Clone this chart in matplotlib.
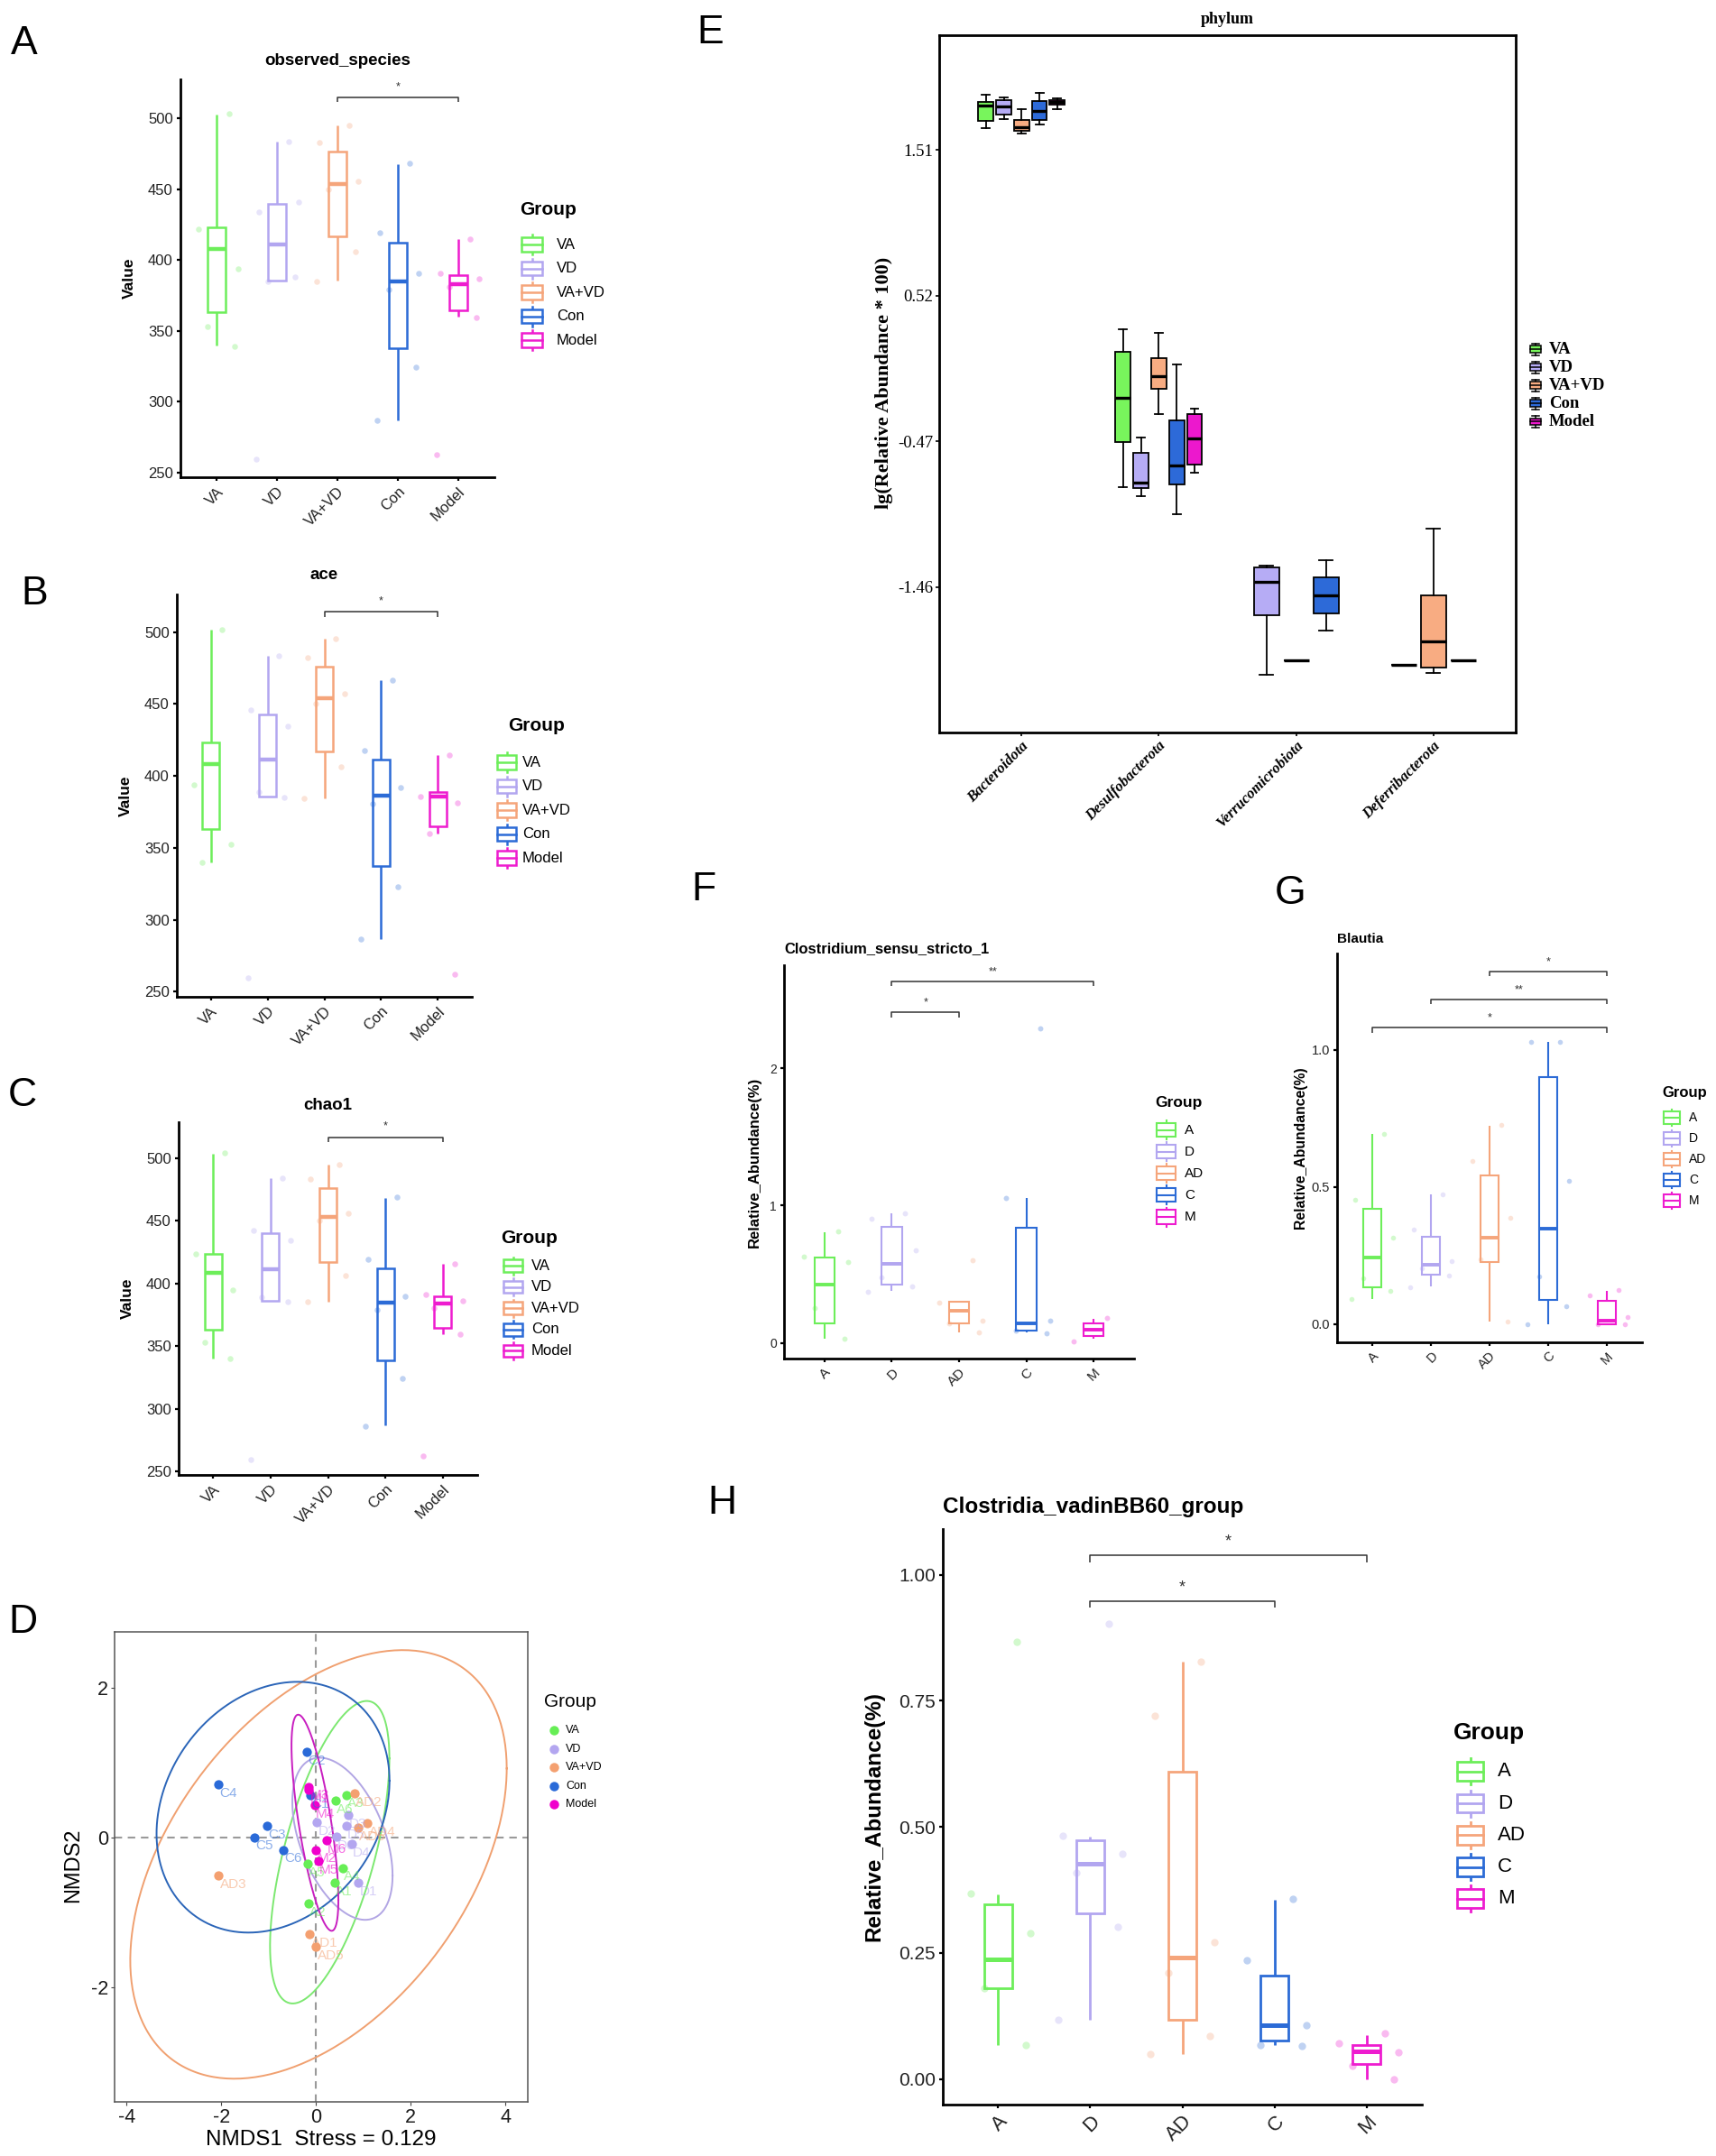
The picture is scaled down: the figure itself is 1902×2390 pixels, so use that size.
import numpy as np
import matplotlib
matplotlib.use('Agg')
import matplotlib.pyplot as plt
from matplotlib.lines import Line2D
from matplotlib.patches import Rectangle

plt.rcParams['font.family'] = ['Liberation Sans', 'DejaVu Sans']
plt.rcParams['axes.unicode_minus'] = False

W, H = 1902, 2390
PX = 0.72  # points per pixel at dpi 100

# ---------------- data ----------------
ALPHA_GROUPS = ['VA', 'VD', 'VA+VD', 'Con', 'Model']
GENUS_GROUPS = ['A', 'D', 'AD', 'C', 'M']
COLORS = ['#6DEE5A', '#B2A6F0', '#F5A57B', '#2C6BD6', '#EE1CCF']

# box stats per group: [lower whisker, Q1, median, Q3, upper whisker]
OBS_BOX = [[339.4, 363.3, 408.0, 423.0, 502.6], [385.8, 385.8, 410.8, 439.9, 483.7],
           [385.3, 416.7, 453.6, 476.6, 494.8], [287.0, 338.0, 384.8, 412.0, 467.8],
           [360.0, 364.7, 383.2, 389.5, 414.9]]
OBS_PTS = [[503, 421.7, 394, 353, 339], [483.7, 433.8, 441, 385, 388, 259.5],
           [494.7, 483, 455.8, 449.9, 406, 384.8], [468, 419, 390.3, 379.4, 324.5, 286.7],
           [415, 390.3, 386.7, 380.8, 359.5, 262.5]]
OBS_SIG = [(3, 5, 514.6, '*')]

ACE_BOX = [[340.2, 363.0, 408.4, 423.3, 501.6], [385.6, 385.6, 411.5, 442.9, 483.5],
           [384.4, 417.3, 453.9, 476.0, 495.1], [286.8, 337.1, 386.3, 411.2, 466.7],
           [360.0, 364.9, 385.8, 389.1, 414.3]]
ACE_PTS = [[501.6, 393.8, 352.5, 340.2], [483.5, 445.7, 434.5, 388.6, 384.9, 259.8],
           [495.1, 482.3, 457.1, 450.4, 406.1, 384.4], [466.7, 417.5, 391.9, 380.5, 322.7, 286.8],
           [414.5, 385.8, 381.4, 360, 262.1]]
ACE_SIG = [(3, 5, 514.0, '*')]

CHAO_BOX = [[339.8, 363.3, 408.6, 423.4, 503.8], [386.1, 386.1, 411.6, 440.2, 483.9],
            [385.3, 417.2, 453.4, 476.4, 494.6], [287.0, 338.4, 384.5, 412.1, 468.4],
            [359.9, 364.7, 384.0, 389.9, 415.6]]
CHAO_PTS = [[504, 423.6, 394.7, 353.2, 339.8], [484, 442.1, 434.6, 388.8, 385.3, 259.7],
            [495, 483.1, 456.3, 450.4, 406.5, 385.3], [469, 419.6, 390.1, 378.9, 324.5, 286.4],
            [416, 390.9, 386, 380.2, 359.9, 262.6]]
CHAO_SIG = [(3, 5, 516.6, '*')]

CSS_BOX = [[0.032, 0.139, 0.423, 0.623, 0.807], [0.379, 0.423, 0.575, 0.846, 0.941],
           [0.076, 0.144, 0.232, 0.301, 0.301], [0.076, 0.090, 0.142, 0.839, 1.059],
           [0.027, 0.051, 0.093, 0.139, 0.174]]
CSS_PTS = [[0.81, 0.631, 0.589, 0.252, 0.027], [0.946, 0.907, 0.672, 0.474, 0.408, 0.374],
           [0.604, 0.293, 0.161, 0.139, 0.073], [2.293, 1.059, 0.16, 0.086, 0.068],
           [0.178, 0.012]]
CSS_SIG = [(2, 3, 2.408, '*'), (2, 5, 2.633, '**')]

BLA_BOX = [[0.093, 0.134, 0.242, 0.419, 0.692], [0.138, 0.182, 0.218, 0.317, 0.472],
           [0.011, 0.225, 0.315, 0.543, 0.722], [0.0, 0.090, 0.347, 0.900, 1.028],
           [0.0, 0.0, 0.013, 0.084, 0.122]]
BLA_PTS = [[0.692, 0.454, 0.315, 0.166, 0.122, 0.093], [0.472, 0.344, 0.231, 0.203, 0.178, 0.136],
           [0.725, 0.594, 0.389, 0.237, 0.011], [1.028, 1.028, 0.521, 0.175, 0.065, 0.0],
           [0.126, 0.105, 0.026, 0.0, 0.0]]
BLA_SIG = [(1, 5, 1.079, '*'), (2, 5, 1.182, '**'), (3, 5, 1.284, '*')]

CVB_BOX = [[0.067, 0.180, 0.237, 0.347, 0.366], [0.118, 0.328, 0.427, 0.473, 0.481],
           [0.049, 0.118, 0.241, 0.609, 0.828], [0.067, 0.076, 0.107, 0.205, 0.355],
           [0.0, 0.030, 0.055, 0.068, 0.087]]
CVB_PTS = [[0.867, 0.368, 0.289, 0.180, 0.067], [0.903, 0.483, 0.446, 0.409, 0.302, 0.118],
           [0.828, 0.720, 0.272, 0.211, 0.085, 0.049], [0.357, 0.235, 0.107, 0.067, 0.065],
           [0.090, 0.071, 0.054, 0.026, 0.0]]
CVB_SIG = [(2, 4, 0.948, '*'), (2, 5, 1.039, '*')]

# phylum panel (lg relative abundance), None = group absent
PHYLA = ['Bacteroidota', 'Desulfobacterota', 'Verrucomicrobiota', 'Deferribacterota']
PHY_VA = [[1.655, 1.708, 1.811, 1.832, 1.881], [-0.778, -0.477, -0.177, 0.135, 0.290], None, None]
PHY_VD = [[1.719, 1.750, 1.803, 1.846, 1.867], [-0.841, -0.788, -0.753, -0.548, -0.442],
          [-2.054, -1.651, -1.425, -1.326, -1.315], [-1.987, -1.987, -1.987, -1.987, -1.987]]
PHY_VAVD = [[1.620, 1.637, 1.662, 1.712, 1.786], [-0.283, -0.116, -0.025, 0.096, 0.265],
            [-1.955, -1.955, -1.955, -1.955, -1.955], [-2.043, -2.005, -1.828, -1.513, -1.064]]
PHY_CON = [[1.683, 1.715, 1.772, 1.839, 1.899], [-0.965, -0.760, -0.636, -0.329, 0.053],
           [-1.757, -1.637, -1.513, -1.396, -1.276], None]
PHY_MODEL = [[1.786, 1.814, 1.835, 1.849, 1.857], [-0.682, -0.629, -0.449, -0.286, -0.247],
             None, [-1.955, -1.955, -1.955, -1.955, -1.955]]
PHY_TICKS = [1.51, 0.52, -0.47, -1.46]
PHY_COLORS = ['#78F55C', '#B6ACF5', '#F8AC82', '#2D6AD8', '#EC18CD']

# NMDS
SAMPLE_IDS = ['A1', 'A2', 'A3', 'A4', 'A5', 'A6',
              'D1', 'D2', 'D3', 'D4', 'D5', 'D6',
              'AD1', 'AD2', 'AD3', 'AD4', 'AD5', 'AD6',
              'C1', 'C2', 'C3', 'C4', 'C5', 'C6',
              'M1', 'M2', 'M3', 'M4', 'M5', 'M6']
SAMPLE_GROUP = [0] * 6 + [1] * 6 + [2] * 6 + [3] * 6 + [4] * 6
NMDS1 = [0.385, -0.162, 0.632, 0.556, -0.188, 0.41,
         0.897, 0.017, 0.675, 0.752, 0.632, 0.427,
         -0.137, 0.812, -2.06, 1.085, 0.0, 0.889,
         -0.128, -0.205, -1.043, -2.06, -1.30, -0.70,
         -0.162, -0.009, -0.154, -0.034, 0.043, 0.214]
NMDS2 = [-0.604, -0.884, 0.571, -0.407, -0.351, 0.491,
         -0.604, 0.201, 0.295, -0.089, 0.154, 0.014,
         -1.291, 0.589, -0.51, 0.192, -1.46, 0.126,
         0.561, 1.146, 0.154, 0.706, 0.005, -0.164,
         0.636, -0.164, 0.678, 0.435, -0.313, -0.042]
ELL_CENTER = [(0.287, -0.197), (0.556, -0.017), (0.05, -0.36), (-0.91, 0.405), (-0.025, 0.197)]
ELL_SHAPE = [[[1.588, 1.58], [1.58, 4.09]], [[1.12, -0.52], [-0.52, 1.175]],
             [[15.8, 5.1], [5.1, 8.21]], [[6.05, 0.87], [0.87, 2.81]],
             [[0.245, -0.51], [-0.51, 2.088]]]
NMDS_PT_COLORS = ['#66EE55', '#B3A6F0', '#F4A070', '#2A6AD8', '#F000CC']
NMDS_ELL_COLORS = ['#7CE870', '#B2A6E4', '#F0A070', '#2B65B8', '#C81EC0']

JITTER = [0.2, -0.3, 0.35, -0.15, 0.3, -0.35]

SERIF = ['Liberation Serif', 'DejaVu Serif']

fig = plt.figure(figsize=(W / 100, H / 100), dpi=100)

# overlay in pixel units for the legends
ov = fig.add_axes([0, 0, 1, 1], zorder=10)
ov.set_xlim(0, W)
ov.set_ylim(H, 0)
ov.axis('off')


def axes_px(l, t, r, b):
    return fig.add_axes([l / W, 1 - b / H, (r - l) / W, (b - t) / H])


def ftext(x, y, s, **kw):
    kw.setdefault('ha', 'center')
    kw.setdefault('va', 'center')
    fig.text(x / W, 1 - y / H, s, **kw)


def box_key(x, y, w, h, color, lw, filled=False, caps=False, frac=0.72):
    edge = 'black' if filled else color
    cx = x + w / 2
    ov.add_line(Line2D([cx, cx], [y - h / 2, y + h / 2], color=edge, lw=lw, zorder=1))
    if caps:
        for yy in (y - h / 2, y + h / 2):
            ov.add_line(Line2D([cx - 0.3 * w, cx + 0.3 * w], [yy, yy], color=edge, lw=lw, zorder=1))
    bh = frac * h
    ov.add_patch(Rectangle((x, y - bh / 2), w, bh, facecolor=color if filled else 'white',
                           edgecolor=edge, lw=lw, zorder=2))
    ov.add_line(Line2D([x, x + w], [y, y], color=edge, lw=lw, zorder=3))


def group_legend(labels, title_xy, tfs, key_x, key_w, key_h, lab_x, first, pitch, fs, lw):
    ftext(title_xy[0], title_xy[1], 'Group', fontsize=tfs, fontweight='bold', ha='left')
    for i, lab in enumerate(labels):
        y = first + i * pitch
        box_key(key_x, y, key_w, key_h, COLORS[i], lw)
        ov.text(lab_x, y, lab, fontsize=fs, ha='left', va='center')


def classic(ax, tick_fs, spine_lw):
    for s in ['top', 'right']:
        ax.spines[s].set_visible(False)
    for s in ['left', 'bottom']:
        ax.spines[s].set_linewidth(spine_lw)
    ax.tick_params(length=4 * PX, width=spine_lw * 0.8, labelsize=tick_fs, labelcolor='#222222', pad=3)


def box_panel(ax, stats, pts, sig, xlabels, lw, mlw, ps, sig_fs, sig_px, sig_lw, xfs):
    for i, st in enumerate(stats):
        c = COLORS[i]
        lo, q1, md, q3, hi = st
        ax.bxp([dict(whislo=lo, q1=q1, med=md, q3=q3, whishi=hi)], positions=[i + 1], widths=0.3,
               showcaps=False, showfliers=False, manage_ticks=False, patch_artist=True,
               boxprops=dict(facecolor='none', edgecolor=c, linewidth=lw),
               whiskerprops=dict(color=c, linewidth=lw, solid_capstyle='butt'),
               medianprops=dict(color=c, linewidth=mlw, solid_capstyle='butt'))
        ax.scatter(i + 1 + np.array(JITTER[:len(pts[i])]), pts[i], s=ps, color=c, alpha=0.3,
                   linewidths=0, zorder=3)
    ax.set_xlim(0.4, len(stats) + 0.6)
    ax.set_xticks(range(1, len(stats) + 1))
    ax.set_xticklabels(xlabels, rotation=45, ha='right', va='top', rotation_mode='anchor', fontsize=xfs)
    y0, y1 = ax.get_ylim()
    tip = 0.012 * (y1 - y0)
    for i, j, y, lab in sig:
        ax.plot([i, i, j, j], [y - tip, y, y, y - tip], color='#333333', lw=sig_lw, solid_capstyle='butt')
        ax.annotate(lab, xy=((i + j) / 2, y), xytext=(0, sig_px * PX), textcoords='offset points',
                    ha='center', va='center', fontsize=sig_fs, color='#333333')


# ---------------- A, B, C: alpha diversity ----------------
alpha_panels = [
    dict(letter='A', lpos=(27, 48), rect=(200, 88, 548, 529), ylim=(246.8, 527.4),
         title='observed_species', ty=68, box=OBS_BOX, pts=OBS_PTS, sig=OBS_SIG,
         tpos=(576, 232), key_x=578, key_w=23, key_h=22, lab_x=617, first=271, pitch=26.5),
    dict(letter='B', lpos=(38, 659), rect=(196, 659, 523, 1105), ylim=(246.5, 526.1),
         title='ace', ty=638, box=ACE_BOX, pts=ACE_PTS, sig=ACE_SIG,
         tpos=(563, 804), key_x=551, key_w=21, key_h=22, lab_x=579, first=845, pitch=26.5),
    dict(letter='C', lpos=(25, 1214), rect=(198, 1244, 529, 1635), ylim=(247.3, 528.7),
         title='chao1', ty=1226, box=CHAO_BOX, pts=CHAO_PTS, sig=CHAO_SIG,
         tpos=(555, 1372), key_x=558, key_w=21, key_h=19, lab_x=589, first=1403, pitch=23.6),
]
for p in alpha_panels:
    rect = p['rect']
    ax = axes_px(*rect)
    ax.set_ylim(*p['ylim'])
    classic(ax, 12, 2.0)
    box_panel(ax, p['box'], p['pts'], p['sig'], ALPHA_GROUPS, 1.8, 3.2, 22, 9, 12, 1.1, 12)
    ax.set_yticks([250, 300, 350, 400, 450, 500])
    ftext(*p['lpos'], p['letter'], fontsize=32)
    ftext((rect[0] + rect[2]) / 2, p['ty'], p['title'], fontsize=13.5, fontweight='bold')
    ftext(rect[0] - 57, (rect[1] + rect[3]) / 2, 'Value', fontsize=12.5, fontweight='bold', rotation=90)
    group_legend(ALPHA_GROUPS, p['tpos'], 15, p['key_x'], p['key_w'], p['key_h'], p['lab_x'],
                 p['first'], p['pitch'], 12, 1.8)

# ---------------- D: NMDS ----------------
ax = axes_px(127, 1809, 585, 2330)
ax.set_xlim(-4.256, 4.47)
ax.set_ylim(-3.535, 2.749)
ax.axhline(0, color='#9a9a9a', lw=1.5, ls=(0, (4, 3)), zorder=1)
ax.axvline(0, color='#9a9a9a', lw=1.5, ls=(0, (4, 3)), zorder=1)
t = np.linspace(0, 2 * np.pi, 300)
for g in range(5):
    L = np.linalg.cholesky(np.array(ELL_SHAPE[g]))
    e = np.array(ELL_CENTER[g])[:, None] + L @ np.vstack([np.cos(t), np.sin(t)])
    ax.plot(e[0], e[1], color=NMDS_ELL_COLORS[g], lw=1.4, zorder=2)
gx = np.array(NMDS1)
gy = np.array(NMDS2)
grp = np.array(SAMPLE_GROUP)
for g in range(5):
    m = grp == g
    ax.scatter(gx[m], gy[m], s=55, color=NMDS_PT_COLORS[g], linewidths=0, zorder=3)
for sid, x, y, g in zip(SAMPLE_IDS, NMDS1, NMDS2, SAMPLE_GROUP):
    ax.annotate(sid, xy=(x, y), xytext=(1, -2), textcoords='offset points', ha='left', va='top',
                fontsize=11, color=NMDS_PT_COLORS[g], alpha=0.55, zorder=4)
ax.set_xticks([-4, -2, 0, 2, 4])
ax.set_yticks([-2, 0, 2])
ax.tick_params(length=4 * PX, labelsize=15.5, labelcolor='#1a1a1a', color='#444444', pad=2)
for s in ax.spines.values():
    s.set_color('#555555')
    s.set_linewidth(1.1)
ftext(25, 1798, 'D', fontsize=32)
ftext(356, 2372, 'NMDS1  Stress = 0.129', fontsize=17.5)
ftext(81, 2068, 'NMDS2', fontsize=17, rotation=90)
ftext(603, 1886, 'Group', fontsize=15, ha='left')
for i, lab in enumerate(ALPHA_GROUPS):
    y = 1918 + i * 20.5
    ov.plot([614], [y], marker='o', ls='none', markersize=7.5, markerfacecolor=NMDS_PT_COLORS[i],
            markeredgewidth=0)
    ov.text(627, y, lab, fontsize=9, ha='left', va='center')

# ---------------- E: phylum ----------------
ax = axes_px(1041, 39, 1680, 812)
ax.set_xlim(0.4, len(PHYLA) + 0.6)
ax.set_ylim(-2.447, 2.288)
PHY_STATS = [PHY_VA, PHY_VD, PHY_VAVD, PHY_CON, PHY_MODEL]
for k in range(len(PHYLA)):
    present = [g for g in range(5) if PHY_STATS[g][k] is not None]
    slot = 0.65 / len(present)
    for j, g in enumerate(present):
        lo, q1, md, q3, hi = PHY_STATS[g][k]
        pos = k + 1 + (j - (len(present) - 1) / 2) * slot
        ax.bxp([dict(whislo=lo, q1=q1, med=md, q3=q3, whishi=hi)], positions=[pos], widths=slot * 0.85,
               capwidths=slot * 0.45, showfliers=False, manage_ticks=False, patch_artist=True,
               boxprops=dict(facecolor=PHY_COLORS[g], edgecolor='black', linewidth=1.3),
               whiskerprops=dict(color='black', linewidth=1.3),
               capprops=dict(color='black', linewidth=1.3),
               medianprops=dict(color='black', linewidth=2.4, solid_capstyle='butt'))
ax.set_xticks(range(1, len(PHYLA) + 1))
ax.set_xticklabels(PHYLA, rotation=45, ha='right', va='top', rotation_mode='anchor',
                   family=SERIF, fontweight='bold', fontstyle='italic', fontsize=12)
ax.set_yticks(PHY_TICKS)
ax.set_yticklabels(['%.2f' % v for v in PHY_TICKS], family=SERIF, fontsize=13.5)
ax.tick_params(length=4 * PX, width=1.2, pad=2)
for s in ax.spines.values():
    s.set_linewidth(2.0)
ftext(787, 37, 'E', fontsize=32)
ftext(1360, 22, 'phylum', fontsize=13, fontweight='bold', family=SERIF)
ftext(980, 424, 'lg(Relative Abundance * 100)', fontsize=16, fontweight='bold', family=SERIF, rotation=90)
for i, lab in enumerate(ALPHA_GROUPS):
    y = 387 + i * 20.1
    box_key(1696, y, 12, 13, PHY_COLORS[i], 1.1, filled=True, caps=True, frac=0.6)
    ov.text(1717, y, lab, fontsize=13.5, fontweight='bold', family=SERIF, ha='left', va='center')

# ---------------- F, G, H: genera ----------------
genus_panels = [
    dict(letter='F', lpos=(780, 986), rect=(869, 1070, 1257, 1506), ylim=(-0.115, 2.753),
         ticks=[0, 1, 2], tlabels=['0', '1', '2'], title='Clostridium_sensu_stricto_1', ty=1052,
         box=CSS_BOX, pts=CSS_PTS, sig=CSS_SIG, tick_fs=10, xfs=11, title_fs=12, ylab_x=836, ylab_fs=12,
         lw=1.5, mlw=2.8, ps=18, sig_fs=9, sig_px=11,
         tpos=(1280, 1223), ltfs=12.5, key_x=1282, key_w=21, key_h=21, lab_x=1313,
         first=1252.6, pitch=24.1, lfs=11),
    dict(letter='G', lpos=(1430, 990), rect=(1482, 1057, 1820, 1488), ylim=(-0.066, 1.35),
         ticks=[0, 0.5, 1.0], tlabels=['0.0', '0.5', '1.0'], title='Blautia', ty=1041,
         box=BLA_BOX, pts=BLA_PTS, sig=BLA_SIG, tick_fs=10.5, xfs=10.5, title_fs=11, ylab_x=1442, ylab_fs=11.3,
         lw=1.5, mlw=2.8, ps=16, sig_fs=9, sig_px=11,
         tpos=(1842, 1212), ltfs=12, key_x=1844, key_w=18, key_h=18.6, lab_x=1872,
         first=1239, pitch=23, lfs=10),
    dict(letter='H', lpos=(800, 1666), rect=(1045, 1695, 1576, 2333), ylim=(-0.0505, 1.0906),
         ticks=[0, 0.25, 0.5, 0.75, 1.0], tlabels=['0.00', '0.25', '0.50', '0.75', '1.00'],
         title='Clostridia_vadinBB60_group', ty=1670,
         box=CVB_BOX, pts=CVB_PTS, sig=CVB_SIG, tick_fs=15, xfs=16, title_fs=17.5, ylab_x=969, ylab_fs=17.5,
         lw=2.0, mlw=3.6, ps=36, sig_fs=13, sig_px=15,
         tpos=(1611, 1921), ltfs=19, key_x=1615, key_w=29, key_h=29, lab_x=1660,
         first=1963.7, pitch=35.3, lfs=16),
]
for p in genus_panels:
    ax = axes_px(*p['rect'])
    ax.set_ylim(*p['ylim'])
    classic(ax, p['tick_fs'], 2.0)
    box_panel(ax, p['box'], p['pts'], p['sig'], GENUS_GROUPS, p['lw'], p['mlw'], p['ps'],
              p['sig_fs'], p['sig_px'], 1.1, p['xfs'])
    ax.set_yticks(p['ticks'])
    ax.set_yticklabels(p['tlabels'])
    ftext(*p['lpos'], p['letter'], fontsize=32)
    ftext(p['rect'][0], p['ty'], p['title'], fontsize=p['title_fs'], fontweight='bold', ha='left')
    ftext(p['ylab_x'], (p['rect'][1] + p['rect'][3]) / 2, 'Relative_Abundance(%)',
          fontsize=p['ylab_fs'], fontweight='bold', rotation=90)
    group_legend(GENUS_GROUPS, p['tpos'], p['ltfs'], p['key_x'], p['key_w'], p['key_h'], p['lab_x'],
                 p['first'], p['pitch'], p['lfs'], p['lw'])

fig.savefig('out.png', dpi=100, facecolor='white')
